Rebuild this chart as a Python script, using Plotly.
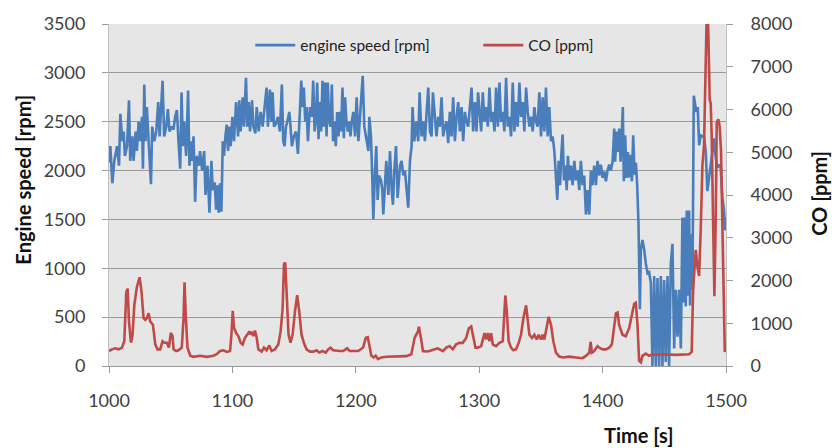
import plotly.graph_objects as go

# ---- engine speed [rpm] ----
ES_T = [1000.0,1001.1,1002.7,1004.3,1006.5,1008.1,1009.2,1010.8,1011.9,1012.9,1014.6,1016.2,1017.2,1018.9,1019.9,
        1021.6,1022.6,1024.0,1025.3,1026.7,1027.5,1028.6,1029.6,1030.7,1032.3,1034.0,1035.0,1036.7,1038.3,1039.9,
        1041.0,1042.0,1043.4,1044.7,1046.4,1047.7,1049.0,1050.7,1052.3,1053.6,1055.0,1056.3,1057.7,1058.8,1059.8,
        1060.9,1062.5,1064.1,1065.2,1066.3,1067.4,1068.5,1069.8,1071.1,1072.8,1073.8,1075.5,1077.1,1078.2,1079.8,
        1081.4,1083.0,1084.1,1085.7,1086.8,1087.9,1088.9,1090.0,1091.1,1092.2,1093.2,1094.3,1095.4,1096.5,1097.6,
        1098.6,1100.0,1101.3,1103.0,1104.6,1105.6,1106.7,1108.3,1109.4,1111.0,1112.1,1113.2,1114.3,1115.9,1117.0,
        1118.6,1119.7,1121.3,1122.9,1124.5,1126.1,1127.7,1128.8,1130.4,1131.5,1132.6,1133.7,1135.3,1136.9,1138.5,
        1140.1,1141.2,1142.3,1143.4,1144.5,1146.1,1147.1,1148.2,1149.8,1151.5,1153.1,1154.2,1155.8,1156.8,1157.9,
        1159.0,1160.1,1161.2,1162.8,1164.4,1165.5,1166.6,1167.6,1168.7,1169.8,1170.9,1171.9,1173.0,1174.1,1175.2,
        1176.3,1177.3,1178.4,1179.5,1180.6,1181.6,1182.7,1183.8,1184.9,1186.0,1187.0,1188.1,1189.2,1190.3,1191.3,
        1192.4,1193.5,1194.6,1195.7,1196.7,1198.0,1199.4,1200.7,1202.1,1203.7,1205.6,1206.9,1208.6,1210.2,1211.0,
        1212.3,1213.4,1214.2,1215.6,1216.6,1217.7,1218.8,1220.4,1221.5,1222.3,1223.7,1224.7,1226.4,1227.7,1229.1,
        1230.1,1231.2,1232.6,1233.9,1235.8,1237.1,1238.5,1239.8,1241.2,1242.5,1243.9,1245.2,1246.0,1247.4,1249.0,
        1250.6,1251.7,1253.3,1254.7,1256.0,1257.4,1258.7,1260.1,1261.4,1262.5,1264.1,1265.4,1266.8,1268.1,1269.5,
        1270.8,1272.2,1273.5,1274.9,1276.2,1277.6,1278.9,1280.3,1281.6,1283.0,1284.3,1285.7,1287.0,1288.4,1289.7,
        1291.1,1292.4,1293.8,1295.1,1296.5,1297.8,1299.1,1301.6,1302.9,1304.3,1305.6,1307.0,1308.3,1309.7,1311.0,
        1312.4,1313.7,1315.1,1316.4,1317.7,1319.1,1320.4,1321.8,1323.1,1324.5,1325.8,1327.2,1328.5,1329.9,1331.2,
        1332.6,1333.9,1335.3,1336.6,1338.0,1339.3,1340.7,1342.0,1343.4,1344.7,1346.1,1347.4,1348.7,1350.1,1351.4,
        1352.8,1354.1,1355.5,1356.8,1358.2,1359.5,1360.9,1362.2,1363.3,1364.4,1365.5,1366.5,1367.6,1368.7,1369.8,
        1370.9,1371.9,1373.0,1374.4,1375.7,1377.1,1378.4,1379.7,1381.1,1382.4,1383.8,1385.1,1386.5,1387.8,1389.2,
        1390.5,1391.9,1393.2,1394.6,1395.9,1397.3,1398.6,1400.0,1401.3,1402.7,1404.0,1405.4,1406.7,1408.1,1409.4,
        1410.2,1411.3,1412.4,1413.5,1414.6,1415.6,1416.4,1417.2,1418.3,1419.4,1420.5,1421.6,1422.6,1423.7,1424.8,
        1425.9,1427.0,1428.0,1429.1,1430.2,1431.0,1432.3,1433.7,1435.0,1436.4,1437.7,1439.1,1440.4,1441.8,1443.1,
        1444.5,1445.8,1447.2,1448.5,1449.9,1451.2,1452.6,1453.9,1455.3,1456.6,1458.0,1459.3,1460.7,1462.0,1463.4,
        1464.7,1465.5,1466.3,1467.4,1468.2,1469.3,1470.1,1470.9,1471.7,1472.8,1473.9,1474.9,1476.0,1477.1,1478.2,
        1479.5,1480.9,1482.2,1483.6,1484.9,1486.3,1487.6,1489.0,1490.3,1491.7,1493.0,1494.4,1495.7,1497.1,1498.4,
        1499.2,1500.0]
ES_V = [2080,2250,1870,2100,2250,2050,2580,2300,2400,2150,2250,2720,2100,2350,2100,
        2400,2200,2500,2300,2550,2020,2880,2300,2650,2250,1860,2450,2300,2400,2700,
        2350,2650,2920,2350,2450,2630,2400,2450,2420,2550,2620,2300,2020,2800,2250,
        2500,2150,2820,2050,2300,2100,2350,1680,2150,2050,2200,2000,2200,1750,2050,
        1570,2100,1800,1880,1600,1850,1570,1870,1580,2300,2150,2350,2470,2200,2450,
        2250,2550,2300,2700,2350,2720,2400,2750,2450,2950,2450,2700,2400,2720,2450,
        2380,2650,2400,2600,2450,2650,2850,2450,2830,2500,2800,2450,2480,2550,2400,
        2880,2300,2250,2450,2500,2600,2450,2250,2350,2400,2170,2550,2920,2650,2850,
        2500,2650,2300,2650,2550,2920,2400,2500,2900,2320,2700,2400,2920,2450,2900,
        2350,2900,2500,2450,2880,2300,2500,2250,2600,2350,2600,2400,2850,2330,2750,
        2500,2400,2500,2350,2500,2600,2350,2750,2300,2650,2970,2450,2300,2200,2550,
        2350,1900,1500,2000,2250,1700,1950,1900,1800,1550,1950,2100,1750,2200,1800,
        1650,2000,2250,1720,2050,2100,1950,2000,1800,1620,2100,2250,2650,2300,2500,
        2300,2800,2350,2500,2300,2600,2850,2400,2350,2800,2500,2350,2550,2450,2750,
        2350,2450,2500,2280,2600,2350,2750,2300,2550,2700,2400,2650,2300,2600,2500,
        2450,2650,2850,2400,2700,2400,2800,2400,2800,2500,2650,2450,2850,2500,2600,
        2400,2850,2450,2900,2500,2600,2400,2950,2450,2550,2350,2900,2400,2700,2450,
        2900,2550,2700,2400,2850,2600,2450,2550,2400,2650,2500,2450,2800,2350,2750,
        2400,2850,2350,2650,2300,2350,2200,1950,1700,2100,1850,2150,2370,1900,2050,
        1800,2150,1900,2050,1850,2100,1900,2000,1800,2100,1850,1950,1550,1800,1550,
        2000,1850,2050,1850,2100,1950,2060,1925,1990,1890,2000,2060,2000,2090,2430,
        2090,2400,2190,2430,2090,2530,2650,1890,2360,1925,2190,1930,2160,1890,2360,
        1958,2080,1860,1454,580,1190,1290,1190,1050,950,960,850,0,920,0,
        900,0,920,0,880,40,920,0,1050,1250,180,780,300,780,180,
        1520,650,1520,610,1590,720,1590,620,1350,780,2765,2700,2600,2650,2260,
        2360,2350,2350,2190,1790,1960,2060,2190,2330,2130,2030,2060,2030,1720,1590,
        1390,1520]

# ---- CO [ppm] ----
CO_T = [1000.0,1002.4,1005.1,1007.8,1010.5,1012.4,1014.0,1015.1,1016.2,1017.8,1019.1,1020.5,1022.6,1024.8,1026.4,
        1028.0,1029.4,1030.7,1032.1,1033.4,1035.6,1037.5,1039.3,1041.5,1043.4,1045.0,1046.9,1048.5,1050.1,1051.5,
        1052.3,1054.4,1056.3,1059.0,1060.4,1061.2,1062.3,1063.6,1065.8,1068.5,1073.8,1079.2,1084.6,1087.3,1090.0,
        1092.7,1095.4,1098.1,1099.2,1100.3,1101.3,1103.0,1104.8,1106.7,1108.3,1110.2,1112.1,1113.7,1114.8,1115.9,
        1117.0,1118.3,1119.7,1121.0,1123.7,1125.6,1127.7,1129.9,1131.8,1134.5,1137.2,1139.1,1140.7,1141.8,1142.8,
        1143.9,1145.5,1147.1,1148.8,1150.7,1152.5,1154.2,1156.0,1157.9,1160.1,1162.8,1165.5,1168.2,1170.3,1173.0,
        1175.7,1177.6,1179.5,1181.6,1184.3,1187.0,1189.7,1193.0,1195.1,1197.8,1201.9,1205.9,1208.1,1209.7,1211.3,
        1212.6,1214.5,1216.1,1218.0,1220.7,1224.8,1230.2,1235.5,1240.9,1245.0,1247.7,1250.4,1251.1,1253.0,1254.4,
        1257.1,1259.8,1263.8,1266.5,1270.6,1273.3,1276.0,1278.6,1281.3,1284.0,1286.7,1289.4,1291.6,1293.5,1295.4,
        1297.0,1298.9,1301.6,1304.3,1305.6,1307.0,1308.3,1309.7,1311.0,1313.7,1316.4,1319.1,1320.4,1321.2,1322.3,
        1323.9,1325.8,1327.7,1329.9,1332.0,1333.9,1335.8,1338.0,1339.3,1340.7,1342.8,1344.7,1346.6,1348.2,1350.1,
        1351.4,1352.8,1354.7,1356.3,1358.2,1360.1,1362.2,1364.9,1367.6,1373.0,1378.4,1383.8,1386.5,1389.2,1390.3,
        1391.3,1393.2,1395.9,1397.3,1400.0,1402.7,1405.4,1407.5,1409.4,1410.8,1412.1,1413.4,1416.1,1418.8,1421.5,
        1424.2,1425.6,1426.9,1428.3,1429.6,1431.0,1432.3,1435.0,1437.7,1440.4,1443.1,1448.5,1459.3,1470.1,1472.2,
        1473.3,1474.4,1475.5,1476.8,1478.2,1479.5,1480.9,1482.2,1483.6,1484.7,1485.7,1486.8,1487.6,1488.4,1489.5,
        1490.6,1491.7,1492.5,1493.8,1494.9,1496.0,1497.1,1497.9,1499.0,1499.8]
CO_V = [350,390,414,390,430,580,1730,1810,1040,545,735,1425,1850,2075,1730,
        1120,1080,1120,1235,1040,965,505,390,390,580,545,545,430,775,700,
        390,350,368,430,1120,1960,1120,430,240,215,240,215,240,275,350,
        368,330,350,735,1290,890,775,700,545,505,660,735,810,735,800,
        700,830,660,390,337,430,368,480,350,390,505,810,1350,2380,2420,
        1730,735,545,735,1270,1655,1270,735,545,390,337,337,368,314,350,
        314,390,430,368,350,350,350,414,350,350,350,430,660,675,430,
        240,200,240,160,200,215,215,215,230,275,660,810,920,620,350,
        340,350,390,410,350,430,465,390,505,540,540,655,885,925,655,
        430,430,465,770,620,770,580,770,505,465,540,580,1265,1650,1300,
        580,430,368,390,540,730,1115,1420,1115,730,655,730,620,730,620,
        730,620,885,1150,960,580,313,220,200,220,200,183,237,313,565,
        313,350,465,430,390,390,430,505,960,1230,1250,960,730,695,885,
        1265,1455,1480,960,120,85,237,290,237,275,260,275,260,275,330,
        1725,2260,2715,2335,2105,3170,4697,5157,6536,8700,7763,6230,6150,5386,3471,
        1632,3471,5694,5770,5600,5004,3471,1938,329,480]

X_TICKS = [1000, 1100, 1200, 1300, 1400, 1500]
Y_TICKS = [0, 500, 1000, 1500, 2000, 2500, 3000, 3500]
Y2_TICKS = [0, 1000, 2000, 3000, 4000, 5000, 6000, 7000, 8000]

FONT = "Lato"
TICK_COLOR = "#404040"
GRID = "#9a9a9a"

fig = go.Figure()
fig.add_trace(go.Scatter(x=ES_T, y=ES_V, mode="lines", name="engine speed [rpm]",
                         line=dict(color="#4a7ebb", width=2.6), yaxis="y"))
fig.add_trace(go.Scatter(x=CO_T, y=CO_V, mode="lines", name="CO [ppm]",
                         line=dict(color="#be4b48", width=2.6), yaxis="y2"))

fig.update_layout(
    width=832, height=448,
    margin=dict(l=109, r=106, t=18, b=82),
    paper_bgcolor="white",
    plot_bgcolor="#e6e6e6",
    font=dict(family=FONT, size=18, color=TICK_COLOR),
    showlegend=True,
    legend=dict(orientation="h", x=0.229, xanchor="left", y=0.937, yanchor="middle",
                bgcolor="rgba(0,0,0,0)", font=dict(size=15.5, color="#222222"),
                itemwidth=40, entrywidth=173),
    xaxis=dict(range=[1000, 1500], tickvals=X_TICKS, showgrid=False, zeroline=False,
               showline=True, linecolor=GRID, linewidth=1,
               ticks="outside", ticklen=6, tickcolor=GRID, ticklabelstandoff=12,
               tickfont=dict(size=18, color=TICK_COLOR)),
    yaxis=dict(range=[0, 3500], tickvals=Y_TICKS, showgrid=True, gridcolor=GRID, gridwidth=1,
               zeroline=False, showline=True, linecolor="#c0c0c0", linewidth=1,
               ticks="outside", ticklen=6, tickcolor=GRID, ticklabelstandoff=13,
               tickfont=dict(size=18, color=TICK_COLOR)),
    yaxis2=dict(range=[0, 8000], tickvals=Y2_TICKS, overlaying="y", side="right",
                showgrid=False, zeroline=False, showline=True, linecolor="#c0c0c0", linewidth=1,
                ticks="outside", ticklen=6, tickcolor=GRID, ticklabelstandoff=14,
                tickfont=dict(size=18, color=TICK_COLOR)),
    annotations=[
        dict(text="<b>Engine speed [rpm]</b>", xref="paper", yref="paper", x=-0.1388, y=0.546,
             textangle=-90, showarrow=False, font=dict(size=20, color="#111111"),
             xanchor="center", yanchor="middle"),
        dict(text="<b>CO [ppm]</b>", xref="paper", yref="paper", x=1.1505, y=0.506,
             textangle=-90, showarrow=False, font=dict(size=20, color="#111111"),
             xanchor="center", yanchor="middle"),
        dict(text="<b>Time [s]</b>", xref="paper", yref="paper", x=0.8576, y=-0.201,
             showarrow=False, font=dict(size=20, color="#111111"),
             xanchor="center", yanchor="middle"),
    ],
)

fig.write_html("out.html", config={"displayModeBar": False},
               post_script="document.body.style.margin='0';document.body.style.padding='0';"
                           "document.documentElement.style.overflow='hidden';")
